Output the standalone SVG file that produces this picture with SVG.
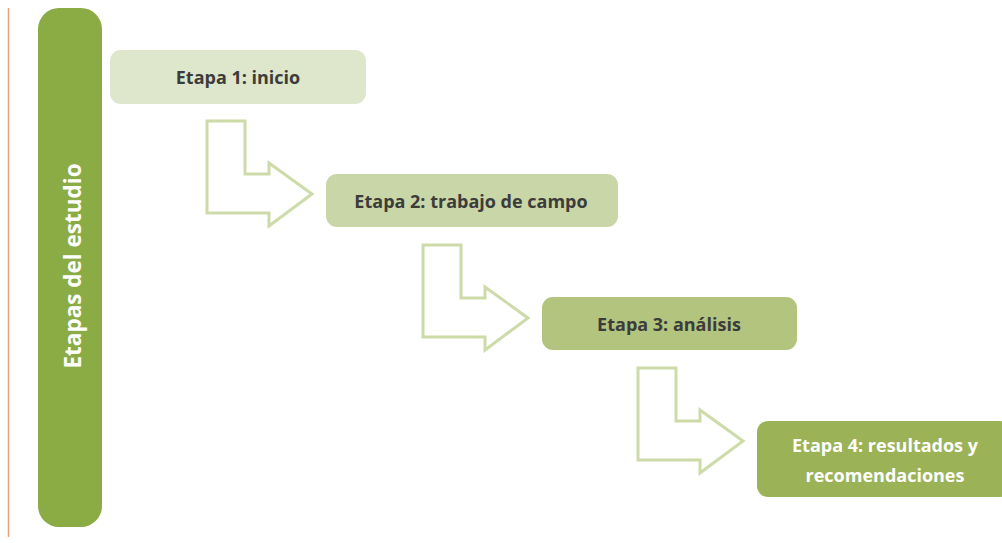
<svg xmlns="http://www.w3.org/2000/svg" width="1002" height="543" viewBox="0 0 1002 543">
<style>
.lbl{font-family:"Open Sans","Liberation Sans",sans-serif;font-weight:700;font-size:18px;text-anchor:middle;fill:#3c3c3b}
.wht{fill:#ffffff}
.arr{fill:#ffffff;stroke:#cddba9;stroke-width:3;stroke-linejoin:miter}
</style>
<rect width="1002" height="543" fill="#ffffff"/>
<line x1="8.5" y1="8" x2="8.5" y2="537" stroke="#e8a27a" stroke-width="1.5"/>
<g id="bar">
<rect x="38" y="8" width="64" height="519" rx="21" fill="#8bab44"/>
<text class="lbl wht" style="font-size:22.5px" transform="translate(81,266) rotate(-90)">Etapas del estudio</text>
</g>
<g id="connectors">
<path class="arr" d="M207,121 H245 V174 H269 V163 L312,194 L269,226 V213 H207 Z"/>
<path class="arr" transform="translate(216,124)" d="M207,121 H245 V174 H269 V163 L312,194 L269,226 V213 H207 Z"/>
<path class="arr" transform="translate(431,247)" d="M207,121 H245 V174 H269 V163 L312,194 L269,226 V213 H207 Z"/>
</g>
<g id="n1">
<rect x="110" y="50" width="256" height="54" rx="11" fill="#dee6cc"/>
<text class="lbl" x="238" y="84">Etapa 1: inicio</text>
</g>
<g id="n2">
<rect x="326" y="174" width="292" height="53" rx="11" fill="#c9d6a7"/>
<text class="lbl" x="471" y="208">Etapa 2: trabajo de campo</text>
</g>
<g id="n3">
<rect x="542" y="297" width="255" height="53" rx="11" fill="#b3c47f"/>
<text class="lbl" x="669" y="331">Etapa 3: análisis</text>
</g>
<g id="n4">
<rect x="757" y="421" width="254" height="76" rx="11" fill="#9bb356"/>
<text class="lbl wht" x="885" y="452">Etapa 4: resultados y</text>
<text class="lbl wht" x="885" y="482">recomendaciones</text>
</g>
</svg>
